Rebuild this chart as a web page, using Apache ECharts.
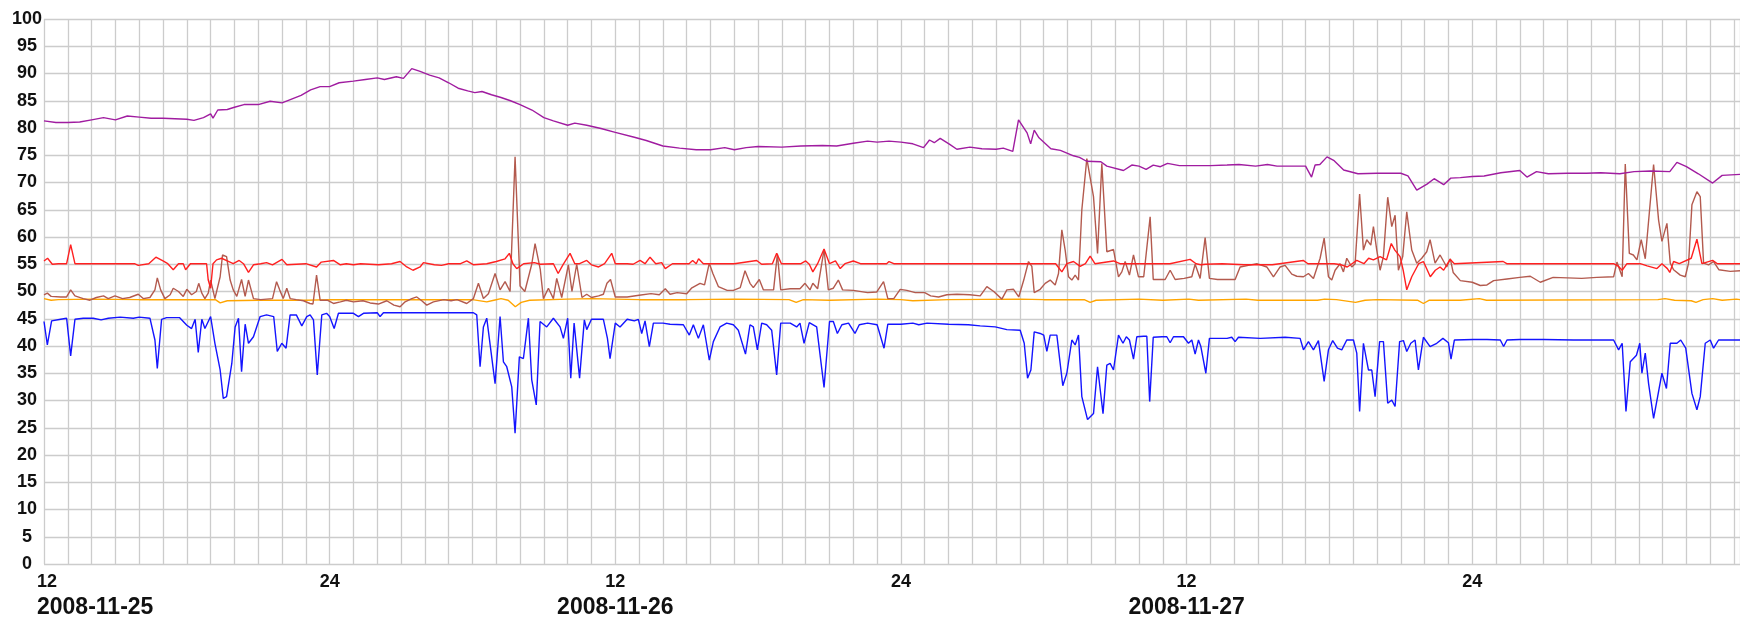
<!DOCTYPE html>
<html>
<head>
<meta charset="utf-8">
<script src="https://cdn.jsdelivr.net/npm/echarts@6/dist/echarts.min.js"></script>
<style>
html,body{margin:0;padding:0;background:#ffffff;}
#chart{width:1740px;height:620px;}
</style>
</head>
<body>
<div id="chart"></div>
<script>
// x values are hours since 2008-11-25 12:00
const dateLabels = ['2008-11-25', '2008-11-26', '2008-11-27'];
const hourLabelNoon = '12';
const hourLabelMidnight = '24';
const yTicks = [0, 100, 5];

const purpleData = [[0,81.3],[0.5,81.0],[1,81.0],[1.5,81.1],[2,81.5],[2.5,81.9],[3,81.5],[3.5,82.2],[4,82.0],[4.5,81.8],[5,81.8],[5.5,81.7],[6,81.6],[6.3,81.4],[6.7,81.9],[7,82.6],[7.1,81.8],[7.3,83.3],[7.7,83.4],[8,83.8],[8.4,84.3],[9,84.3],[9.5,84.9],[10,84.6],[10.4,85.3],[10.8,86.0],[11.2,87.0],[11.6,87.6],[12,87.6],[12.4,88.3],[13,88.6],[13.5,88.9],[14,89.2],[14.3,88.9],[14.8,89.4],[15.1,89.1],[15.45,90.9],[15.8,90.4],[16.2,89.7],[16.6,89.2],[17,88.3],[17.4,87.3],[17.8,86.8],[18.1,86.5],[18.4,86.7],[18.8,86.1],[19.2,85.6],[19.6,85.0],[20,84.3],[20.5,83.3],[21,81.9],[21.4,81.3],[22,80.5],[22.3,80.9],[22.8,80.5],[23.4,79.9],[24,79.2],[24.8,78.3],[25.3,77.7],[26,76.7],[26.7,76.3],[27.4,76.0],[28,76.0],[28.6,76.4],[29,76.0],[29.5,76.4],[30,76.6],[31,76.5],[31.8,76.7],[32.7,76.8],[33.3,76.7],[34,77.2],[34.6,77.6],[35,77.4],[35.5,77.6],[36,77.4],[36.5,77.1],[36.95,76.4],[37.2,77.8],[37.4,77.3],[37.65,78.1],[38.05,77.0],[38.35,76.1],[38.9,76.5],[39.4,76.2],[40,76.1],[40.3,76.3],[40.7,75.7],[40.94,81.5],[41.3,79.1],[41.45,77.1],[41.6,79.6],[41.8,78.2],[42.3,76.2],[42.7,75.9],[43.25,74.9],[43.5,74.6],[43.8,73.9],[44.4,73.8],[44.65,73.0],[45.35,72.2],[45.7,73.2],[46,73.0],[46.3,72.4],[46.6,73.2],[46.9,72.9],[47.2,73.5],[47.7,73.1],[48.3,73.1],[49,73.1],[49.7,73.2],[50.2,73.3],[50.9,73.0],[51.4,73.3],[51.8,73.0],[53.0,73.0],[53.25,71.0],[53.4,73.2],[53.6,73.3],[53.9,74.7],[54.2,74.0],[54.6,72.3],[55.2,71.6],[56,71.7],[57,71.7],[57.3,71.2],[57.67,68.6],[58.1,69.7],[58.4,70.7],[58.8,69.6],[59.1,70.8],[59.5,70.9],[60,71.1],[60.5,71.2],[61.2,71.8],[62,72.2],[62.3,71.0],[62.7,72.0],[63.2,71.6],[64,71.7],[64.8,71.7],[65.4,71.8],[66.2,71.6],[66.8,72.0],[67.5,72.1],[68.3,72.0],[68.6,73.7],[69,72.9],[69.5,71.6],[70.1,69.9],[70.5,71.3],[71.25,71.5]];

const redData = [[0,55.6],[0.15,56.1],[0.35,55.0],[0.6,55.1],[0.95,55.1],[1.12,58.6],[1.3,55.1],[3.8,55.1],[3.96,54.8],[4.4,55.1],[4.7,56.3],[5.0,55.6],[5.2,55.1],[5.43,54.0],[5.65,55.1],[5.85,55.1],[5.95,54.0],[6.15,55.1],[6.83,55.1],[6.9,52.1],[7.0,50.6],[7.1,55.1],[7.25,55.8],[7.46,56.1],[7.7,55.6],[7.95,55.1],[8.2,55.7],[8.38,55.1],[8.59,53.5],[8.8,54.9],[9.1,55.1],[9.35,55.3],[9.6,54.9],[10,55.9],[10.2,54.9],[11.0,55.1],[11.45,54.5],[11.65,55.4],[12.16,55.7],[12.45,54.9],[12.7,55.1],[13,54.9],[13.3,55.1],[14.05,54.9],[14.6,55.1],[14.96,55.5],[15.24,54.5],[15.5,53.9],[15.8,54.5],[15.94,55.3],[16.4,54.9],[16.7,54.8],[17,55.1],[17.5,55.1],[17.76,55.6],[18.05,54.9],[18.6,55.1],[19.0,55.5],[19.37,56.0],[19.55,57.0],[19.7,55.1],[19.86,54.2],[20.15,55.1],[20.6,55.3],[20.85,55.0],[21.4,55.1],[21.6,53.3],[21.8,54.9],[22.1,57.0],[22.3,55.1],[22.5,55.1],[22.8,55.7],[23.0,54.9],[23.3,54.5],[23.55,55.1],[23.85,57.0],[24.0,55.1],[24.5,55.1],[24.75,55.0],[25.04,55.7],[25.25,55.1],[25.46,56.3],[25.7,55.1],[25.95,55.3],[26.1,54.2],[26.4,55.1],[27.1,55.1],[27.25,55.7],[27.4,55.1],[27.5,56.0],[27.7,55.1],[29.0,55.1],[29.94,55.7],[30.15,55.0],[30.6,55.1],[30.78,57.0],[30.98,55.1],[31.8,55.1],[32.0,55.6],[32.15,55.0],[32.3,53.6],[32.5,55.1],[32.77,57.8],[33.0,55.1],[33.25,55.6],[33.45,54.2],[33.65,55.1],[34.0,55.6],[34.3,55.1],[35.4,55.1],[35.5,55.5],[35.7,55.1],[42.5,55.1],[42.55,54.8],[42.76,53.6],[42.97,55.1],[43.25,55.5],[43.53,54.6],[43.75,55.1],[43.95,56.5],[44.15,55.1],[44.93,55.6],[45.2,55.1],[46.3,55.1],[47.3,55.1],[48.15,55.9],[48.4,55.1],[48.6,54.9],[48.8,55.0],[49.5,55.1],[50.4,54.9],[51.6,54.9],[52.9,55.7],[53.1,55.1],[54.2,55.1],[54.5,54.9],[54.75,54.5],[54.95,55.1],[55.15,55.7],[55.45,55.1],[55.65,56.1],[55.85,55.8],[56.13,56.4],[56.4,55.8],[56.6,58.8],[56.75,57.6],[56.97,56.4],[57.1,53.9],[57.25,50.3],[57.46,52.7],[57.75,55.1],[57.95,55.5],[58.24,52.7],[58.45,53.9],[58.65,54.5],[58.8,53.9],[59.07,55.9],[59.25,55.1],[61.3,55.5],[61.45,55.1],[65.94,55.1],[66.15,54.6],[66.3,53.9],[66.5,55.1],[67.06,55.1],[67.35,54.7],[67.76,54.2],[67.97,55.1],[68.2,54.2],[68.3,53.5],[68.46,55.5],[68.7,55.1],[69.2,56.1],[69.44,59.6],[69.65,55.1],[70.1,55.7],[70.3,55.1],[71.25,55.1]];

const brownData = [[0,49.4],[0.14,49.7],[0.3,49.1],[0.7,49.0],[0.95,49.0],[1.12,50.3],[1.3,49.2],[1.65,48.7],[1.93,48.4],[2.2,48.9],[2.5,49.2],[2.7,48.7],[2.98,49.2],[3.3,48.7],[3.6,48.9],[3.96,49.5],[4.17,48.7],[4.45,48.9],[4.66,50.3],[4.76,52.5],[4.9,50.3],[5.08,48.7],[5.3,49.4],[5.43,50.6],[5.65,50.0],[5.85,49.1],[6.0,50.4],[6.2,49.4],[6.4,50.0],[6.5,51.5],[6.63,49.7],[6.76,48.7],[6.9,49.7],[7.0,52.1],[7.18,48.7],[7.4,52.7],[7.5,56.7],[7.67,56.4],[7.82,52.1],[7.95,50.3],[8.1,49.1],[8.3,52.2],[8.45,49.1],[8.59,52.1],[8.8,48.7],[9.1,48.5],[9.6,48.7],[9.77,51.8],[9.9,50.3],[10.05,48.7],[10.2,50.6],[10.34,48.7],[10.6,48.5],[10.9,48.3],[11.17,47.8],[11.3,47.7],[11.45,53.0],[11.6,48.4],[11.9,48.4],[12.16,47.8],[12.45,48.1],[12.7,48.4],[13.0,48.1],[13.4,48.3],[13.7,47.9],[14.05,47.7],[14.4,48.3],[14.7,47.5],[14.96,47.2],[15.17,48.1],[15.45,48.7],[15.66,49.0],[15.87,48.3],[16.08,47.5],[16.36,48.1],[16.8,48.5],[17.1,48.3],[17.35,48.5],[17.76,47.8],[18.04,48.7],[18.25,51.5],[18.46,48.7],[18.67,49.6],[18.95,53.3],[19.16,50.3],[19.37,51.8],[19.58,50.0],[19.79,74.7],[20.0,51.0],[20.2,50.0],[20.49,55.0],[20.63,58.8],[20.85,54.0],[20.98,48.7],[21.19,50.6],[21.4,48.7],[21.54,52.4],[21.75,48.9],[22.03,54.9],[22.18,50.0],[22.38,55.0],[22.6,48.9],[22.8,49.5],[23.0,48.9],[23.3,49.2],[23.5,49.5],[23.65,51.5],[23.8,52.2],[24.0,49.0],[24.2,49.0],[24.5,49.0],[25.0,49.3],[25.5,49.6],[25.85,49.4],[26.1,50.5],[26.3,49.5],[26.6,49.8],[27.0,49.6],[27.2,50.6],[27.56,51.5],[27.75,51.2],[27.95,55.2],[28.1,53.3],[28.33,50.9],[28.7,50.2],[28.96,50.2],[29.25,50.7],[29.45,53.8],[29.66,51.5],[29.8,50.7],[30.05,52.2],[30.22,50.3],[30.65,50.3],[30.81,56.9],[30.95,50.3],[31.35,50.5],[31.76,50.5],[31.97,51.5],[32.18,50.3],[32.3,51.5],[32.5,50.5],[32.77,57.7],[32.95,50.3],[33.16,50.6],[33.37,52.1],[33.55,50.3],[34.0,50.2],[34.6,49.8],[34.98,49.9],[35.27,51.8],[35.45,48.7],[35.7,48.7],[35.97,50.4],[36.25,50.2],[36.6,49.8],[37.0,49.8],[37.25,49.2],[37.58,49.0],[37.93,49.4],[38.35,49.5],[38.9,49.4],[39.33,49.2],[39.61,50.9],[39.9,50.0],[40.24,48.6],[40.45,50.3],[40.73,50.4],[40.95,49.0],[41.16,52.1],[41.36,55.5],[41.5,54.6],[41.6,49.8],[41.85,50.4],[42.06,51.5],[42.27,52.1],[42.48,51.2],[42.62,53.3],[42.76,61.3],[42.9,57.6],[43.04,52.7],[43.18,52.1],[43.32,53.0],[43.46,52.1],[43.6,65.0],[43.81,74.4],[44.09,67.4],[44.26,57.0],[44.44,73.5],[44.65,57.3],[44.93,57.7],[45.14,52.7],[45.28,53.6],[45.42,55.5],[45.6,53.0],[45.77,56.7],[45.98,52.7],[46.2,52.7],[46.47,63.7],[46.6,52.2],[46.9,52.2],[47.1,52.2],[47.31,53.9],[47.52,52.2],[47.9,52.4],[48.22,52.7],[48.36,55.0],[48.57,52.4],[48.78,59.9],[48.96,52.4],[49.3,52.2],[49.7,52.2],[50.04,52.2],[50.25,54.5],[50.6,54.8],[50.95,55.1],[51.37,54.5],[51.65,52.7],[51.93,54.5],[52.14,54.8],[52.42,53.2],[52.63,52.8],[52.91,52.7],[53.12,53.3],[53.33,52.4],[53.61,56.1],[53.78,59.8],[53.96,52.7],[54.1,52.1],[54.24,53.9],[54.45,55.1],[54.59,53.6],[54.73,56.1],[54.94,54.5],[55.08,55.1],[55.27,67.9],[55.43,57.6],[55.57,59.5],[55.74,58.5],[55.85,61.9],[55.99,57.6],[56.13,53.9],[56.27,56.4],[56.45,67.3],[56.62,61.9],[56.76,64.0],[56.9,53.9],[57.08,56.4],[57.25,64.6],[57.46,57.6],[57.67,55.2],[57.88,56.1],[58.09,57.3],[58.23,59.5],[58.44,55.2],[58.65,56.7],[58.93,54.5],[59.08,56.0],[59.2,53.5],[59.5,52.0],[60.0,51.7],[60.34,51.1],[60.62,51.2],[60.9,52.0],[61.46,52.3],[62.0,52.6],[62.44,52.8],[62.86,51.7],[63.4,52.6],[64.0,52.5],[64.6,52.4],[65.24,52.6],[65.94,52.7],[66.08,55.4],[66.3,52.7],[66.43,73.4],[66.6,57.0],[66.77,56.7],[66.92,55.8],[67.1,59.5],[67.27,56.0],[67.62,73.3],[67.83,63.1],[67.97,59.2],[68.18,62.5],[68.32,55.2],[68.46,54.0],[68.74,53.0],[68.95,52.7],[69.09,55.2],[69.23,65.9],[69.44,68.3],[69.58,67.4],[69.72,55.2],[69.93,54.9],[70.14,55.5],[70.36,54.0],[70.84,53.7],[71.25,53.8]];

const orangeData = [[0,48.7],[0.3,48.4],[0.6,48.5],[2,48.6],[4,48.5],[6,48.5],[7.2,48.5],[7.4,47.9],[7.7,48.3],[9,48.4],[11,48.4],[12,48.5],[14,48.5],[16,48.5],[18,48.5],[18.6,48.1],[18.9,48.4],[19.2,48.7],[19.5,48.4],[19.8,47.2],[20.05,48.0],[20.4,48.4],[22,48.6],[23,48.7],[24,48.6],[25,48.5],[27,48.5],[29,48.6],[31.3,48.5],[31.6,48.0],[31.9,48.5],[33,48.4],[35,48.6],[36,48.5],[36.5,48.3],[38,48.5],[41,48.6],[42,48.5],[43.7,48.5],[43.95,48.0],[44.2,48.4],[46,48.6],[47,48.4],[48.1,48.6],[48.5,48.4],[50.5,48.6],[51,48.4],[53.5,48.4],[53.8,48.6],[54.3,48.5],[55.1,48.0],[55.5,48.4],[56,48.5],[57.7,48.4],[57.95,47.8],[58.2,48.4],[59.5,48.4],[60.3,48.7],[60.6,48.4],[67.8,48.5],[68.1,48.7],[68.5,48.4],[69.2,48.3],[69.4,48.0],[69.7,48.5],[70.1,48.7],[70.5,48.4],[71.1,48.6],[71.25,48.5]];

const blueData = [[0,44.5],[0.14,40.2],[0.32,44.6],[0.7,44.9],[0.95,45.1],[1.12,38.2],[1.3,44.9],[1.65,45.1],[2.07,45.1],[2.4,44.8],[2.7,45.1],[3.2,45.3],[3.75,45.1],[4.0,45.3],[4.45,45.1],[4.66,41.1],[4.76,35.9],[4.94,44.9],[5.15,45.2],[5.7,45.2],[6.0,43.8],[6.2,43.2],[6.35,44.9],[6.48,38.8],[6.63,44.9],[6.76,43.2],[7.0,45.4],[7.18,40.5],[7.4,35.6],[7.53,30.4],[7.67,30.7],[7.89,36.8],[8.03,43.5],[8.17,45.1],[8.3,35.3],[8.45,44.0],[8.59,40.5],[8.8,41.7],[9.08,45.4],[9.35,45.7],[9.65,45.4],[9.8,39.0],[9.99,40.5],[10.17,39.6],[10.34,45.7],[10.6,45.7],[10.83,43.7],[11.04,45.4],[11.18,45.7],[11.32,44.8],[11.48,34.7],[11.67,45.7],[11.87,46.0],[12.0,45.4],[12.19,43.2],[12.37,46.0],[13.0,46.0],[13.21,45.4],[13.42,46.0],[14.0,46.1],[14.12,45.4],[14.26,46.1],[18.04,46.1],[18.18,45.7],[18.32,36.2],[18.46,43.5],[18.6,45.1],[18.95,33.1],[19.16,45.4],[19.3,37.1],[19.44,36.2],[19.65,32.5],[19.79,24.0],[19.97,38.0],[20.14,37.7],[20.35,45.1],[20.49,33.8],[20.68,29.2],[20.84,44.5],[21.12,43.5],[21.4,45.1],[21.68,43.5],[21.82,41.4],[22.0,45.1],[22.13,34.1],[22.27,44.2],[22.5,34.1],[22.7,44.8],[22.8,43.0],[23.0,44.9],[23.5,44.9],[23.67,41.4],[23.78,37.7],[24.0,44.2],[24.2,43.5],[24.5,44.9],[24.8,44.6],[24.97,44.9],[25.11,42.3],[25.25,44.6],[25.43,39.9],[25.6,44.2],[26.0,44.2],[26.3,44.0],[26.86,43.9],[27.11,42.0],[27.28,43.9],[27.49,41.4],[27.7,43.9],[27.95,37.4],[28.12,40.8],[28.4,43.5],[28.68,44.2],[28.96,43.9],[29.17,42.9],[29.47,38.5],[29.66,43.9],[29.8,43.5],[29.97,39.3],[30.15,44.2],[30.36,43.9],[30.57,42.9],[30.78,34.7],[30.95,44.2],[31.35,44.2],[31.62,43.5],[31.76,44.2],[31.93,40.5],[32.15,44.3],[32.46,43.5],[32.77,32.4],[33.0,44.5],[33.16,44.5],[33.33,42.3],[33.52,43.9],[33.8,44.2],[34.07,42.3],[34.25,43.9],[34.6,44.2],[35.0,43.9],[35.29,39.6],[35.45,44.0],[36.0,44.0],[36.5,44.2],[36.75,43.9],[37.1,44.2],[38.0,44.0],[38.84,43.9],[39.33,43.7],[39.96,43.5],[40.45,43.0],[41.01,42.9],[41.18,40.5],[41.32,34.1],[41.46,35.6],[41.6,42.6],[41.85,42.3],[42.0,42.0],[42.13,39.0],[42.27,42.0],[42.55,42.0],[42.8,32.7],[42.97,35.0],[43.18,41.1],[43.32,40.2],[43.46,42.0],[43.6,30.7],[43.84,26.5],[44.09,27.6],[44.26,36.2],[44.49,27.6],[44.65,36.5],[44.79,36.8],[44.93,35.6],[45.14,42.0],[45.33,40.5],[45.47,41.7],[45.6,41.1],[45.77,37.6],[45.91,41.7],[46.2,41.8],[46.33,41.8],[46.45,29.8],[46.6,41.6],[46.97,41.7],[47.17,41.7],[47.31,40.6],[47.45,41.7],[47.87,41.7],[48.08,40.5],[48.22,41.1],[48.36,38.5],[48.5,41.1],[48.6,39.9],[48.81,35.0],[48.96,41.4],[49.7,41.4],[49.9,41.6],[50.04,40.8],[50.18,41.6],[51.1,41.4],[52.14,41.6],[52.77,41.4],[52.91,39.3],[53.12,40.8],[53.33,39.3],[53.54,41.0],[53.78,33.5],[53.96,39.3],[54.14,41.0],[54.34,39.6],[54.52,39.3],[54.73,41.1],[55.01,41.1],[55.15,38.7],[55.27,28.0],[55.43,40.5],[55.64,35.6],[55.78,35.6],[55.92,30.7],[56.11,40.8],[56.27,40.8],[56.45,29.5],[56.62,30.1],[56.76,28.9],[56.95,40.8],[57.11,41.0],[57.25,39.0],[57.42,40.5],[57.6,41.1],[57.74,35.6],[57.95,41.6],[58.23,39.9],[58.51,40.5],[58.77,41.4],[59.0,40.6],[59.11,37.6],[59.25,41.1],[60.06,41.2],[60.62,41.2],[61.18,41.1],[61.32,39.9],[61.46,41.1],[62.0,41.2],[63.0,41.2],[64.26,41.1],[65.94,41.1],[66.15,39.3],[66.3,40.5],[66.46,28.0],[66.64,37.1],[66.9,38.3],[67.04,40.5],[67.13,35.0],[67.27,38.7],[67.41,33.1],[67.62,26.7],[67.79,30.7],[67.97,35.0],[68.16,32.2],[68.32,40.5],[68.6,40.5],[68.76,41.1],[68.97,39.6],[69.23,31.3],[69.44,28.3],[69.58,30.7],[69.79,40.5],[70.0,41.1],[70.14,39.6],[70.35,41.1],[71.25,41.1]];

const xMax = 71.25;
const gridColor = '#cccccc';
const textColor = '#111111';
const fontFamily = '"Liberation Sans", Arial, Helvetica, sans-serif';

function xLabel(v) {
  const r = Math.round(v * 100) / 100;
  if (r % 24 === 0) {
    const d = dateLabels[r / 24];
    if (!d) return '';
    if (r === 0) return '{h0|' + hourLabelNoon + '}\n{d0|' + d + '}';
    return '{h|' + hourLabelNoon + '}\n{d|' + d + '}';
  }
  if (r % 24 === 12) return '{h|' + hourLabelMidnight + '}';
  return '';
}

function lineSeries(name, data, color, z) {
  return {
    name: name, type: 'line', data: data, showSymbol: false, symbol: 'none',
    lineStyle: { color: color, width: 1.4 }, itemStyle: { color: color },
    z: z, animation: false, silent: true
  };
}

const hStyle = { fontSize: 18, fontWeight: 'bold', lineHeight: 26, color: textColor, fontFamily: fontFamily };
const dStyle = { fontSize: 23, fontWeight: 'bold', lineHeight: 26, color: textColor, fontFamily: fontFamily };

const chart = echarts.init(document.getElementById('chart'), null, { renderer: 'canvas' });
chart.setOption({
  backgroundColor: '#ffffff',
  animation: false,
  grid: { left: 44, right: 0, top: 19, bottom: 56, containLabel: false },
  xAxis: {
    type: 'value', min: 0, max: xMax, interval: 1,
    axisLine: { show: false }, axisTick: { show: false },
    splitLine: { show: true, lineStyle: { color: gridColor, width: 1.3 } },
    axisLabel: {
      show: true, formatter: xLabel, margin: 5, verticalAlign: 'top',
      showMaxLabel: false, color: textColor, fontFamily: fontFamily,
      rich: {
        h: hStyle,
        d: dStyle,
        h0: Object.assign({ width: 14, align: 'left' }, hStyle),
        d0: Object.assign({ width: 14, align: 'left' }, dStyle)
      }
    }
  },
  yAxis: {
    type: 'value', min: yTicks[0], max: yTicks[1], interval: yTicks[2],
    axisLine: { show: false }, axisTick: { show: false },
    splitLine: { show: true, lineStyle: { color: gridColor, width: 1.3 } },
    axisLabel: { align: 'center', margin: 17, fontSize: 18, fontWeight: 'bold', color: textColor, fontFamily: fontFamily }
  },
  series: [
    lineSeries('orange', orangeData, '#ffa500', 2),
    lineSeries('brown', brownData, '#b35a4e', 3),
    lineSeries('red', redData, '#ff2020', 4),
    lineSeries('blue', blueData, '#1414ff', 5),
    lineSeries('purple', purpleData, '#a01ca0', 6)
  ]
});
</script>
</body>
</html>
